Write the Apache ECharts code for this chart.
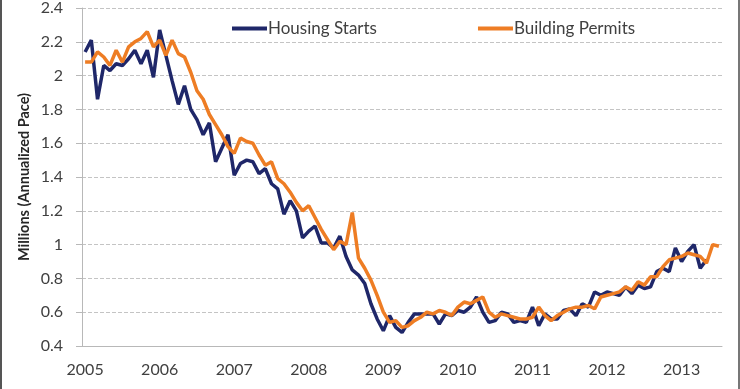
<!DOCTYPE html>
<html>
<head>
<meta charset="utf-8">
<script src="https://cdn.jsdelivr.net/npm/echarts@6/dist/echarts.min.js"></script>
<style>
html,body{margin:0;padding:0;background:#fff;}
#frame{position:absolute;left:0;top:0;width:736px;height:389px;border-left:2px solid #555;border-right:2px solid #777;}
#chart{position:absolute;left:0;top:0;width:740px;height:389px;}
</style>
</head>
<body>
<div id="frame"></div>
<div id="chart"></div>
<script>
// Monthly data, Jan 2005 onward (millions, annualized pace)
const startYear = 2005;
const monthCount = 103; // Jan 2005 .. Jul 2013
const seriesNames = ['Housing Starts', 'Building Permits'];

const housingStarts = [
  // 2005
  2.14, 2.21, 1.86, 2.06, 2.03, 2.07, 2.06, 2.10, 2.15, 2.07, 2.15, 1.99,
  // 2006
  2.27, 2.12, 1.97, 1.83, 1.94, 1.80, 1.74, 1.65, 1.72, 1.49, 1.57, 1.65,
  // 2007
  1.41, 1.48, 1.50, 1.49, 1.42, 1.45, 1.36, 1.33, 1.18, 1.26, 1.20, 1.04,
  // 2008
  1.08, 1.11, 1.01, 1.01, 0.98, 1.05, 0.93, 0.85, 0.82, 0.77, 0.65, 0.56,
  // 2009
  0.49, 0.58, 0.51, 0.48, 0.54, 0.59, 0.59, 0.59, 0.59, 0.53, 0.59, 0.58,
  // 2010
  0.61, 0.60, 0.63, 0.69, 0.60, 0.54, 0.55, 0.60, 0.59, 0.54, 0.55, 0.54,
  // 2011
  0.63, 0.52, 0.59, 0.56, 0.56, 0.61, 0.62, 0.58, 0.65, 0.63, 0.72, 0.70,
  // 2012
  0.72, 0.71, 0.70, 0.75, 0.71, 0.76, 0.74, 0.75, 0.84, 0.86, 0.84, 0.98,
  // 2013
  0.90, 0.96, 1.00, 0.86, 0.91
];

const buildingPermits = [
  // 2005
  2.08, 2.08, 2.14, 2.11, 2.06, 2.15, 2.08, 2.17, 2.20, 2.22, 2.26, 2.17,
  // 2006
  2.21, 2.12, 2.21, 2.13, 2.11, 2.02, 1.91, 1.86, 1.77, 1.71, 1.65, 1.58,
  // 2007
  1.54, 1.63, 1.61, 1.60, 1.53, 1.47, 1.49, 1.39, 1.36, 1.31, 1.25, 1.20,
  // 2008
  1.23, 1.16, 1.09, 1.03, 0.97, 1.02, 1.00, 1.19, 0.92, 0.86, 0.79, 0.70,
  // 2009
  0.60, 0.54, 0.55, 0.51, 0.52, 0.55, 0.57, 0.60, 0.59, 0.61, 0.60, 0.58,
  // 2010
  0.63, 0.66, 0.65, 0.67, 0.69, 0.60, 0.57, 0.59, 0.58, 0.57, 0.56, 0.56,
  // 2011
  0.57, 0.63, 0.58, 0.55, 0.58, 0.60, 0.62, 0.63, 0.63, 0.64, 0.62, 0.69,
  // 2012
  0.70, 0.71, 0.72, 0.75, 0.73, 0.78, 0.76, 0.81, 0.81, 0.87, 0.91, 0.92,
  // 2013
  0.93, 0.95, 0.94, 0.93, 0.89, 1.00, 0.99
];

const yTicks = { min: 0.4, max: 2.4, interval: 0.2 };

const categories = [];
for (let i = 0; i < monthCount; i++) {
  const y = startYear + Math.floor(i / 12);
  const m = (i % 12) + 1;
  categories.push(y + '-' + (m < 10 ? '0' + m : m));
}

const chart = echarts.init(document.getElementById('chart'), null, { renderer: 'canvas' });
const fontFam = 'Lato, "Open Sans", sans-serif';
chart.setOption({
  backgroundColor: 'transparent',
  animation: false,
  grid: { left: 82, right: 18, top: 2, bottom: 43, containLabel: false },
  legend: {
    top: 15,
    left: 227,
    itemGap: 101,
    itemWidth: 35,
    itemHeight: 4,
    icon: 'rect',
    textStyle: { fontFamily: fontFam, fontSize: 17, color: '#404040', padding: [0, 0, 0, -4] },
    data: seriesNames
  },
  xAxis: {
    type: 'category',
    data: categories,
    boundaryGap: true,
    axisLine: { show: true, lineStyle: { color: '#b8b8b8', width: 1 } },
    axisTick: { show: false },
    axisLabel: {
      interval: function (index) { return index % 12 === 0; },
      formatter: function (v) { return v.slice(0, 4); },
      fontFamily: fontFam, fontSize: 16, color: '#404040', margin: 16
    },
    splitLine: { show: false }
  },
  yAxis: {
    type: 'value',
    min: yTicks.min, max: yTicks.max, interval: yTicks.interval,
    name: 'Millions (Annualized Pace)',
    nameLocation: 'middle',
    nameGap: 50,
    nameMoveOverlap: false,
    nameTextStyle: { fontFamily: fontFam, fontSize: 14.5, fontWeight: 'bold', color: '#262626' },
    axisLine: { show: true, lineStyle: { color: '#b8b8b8', width: 1 } },
    axisTick: { show: true, length: 6, lineStyle: { color: '#b8b8b8' } },
    axisLabel: {
      fontFamily: fontFam, fontSize: 16, color: '#404040', margin: 19,
      formatter: function (v) { return String(Math.round(v * 10) / 10); }
    },
    splitLine: { show: true, lineStyle: { color: '#c4c4c4', type: [4, 2], width: 1 } }
  },
  series: [
    {
      name: seriesNames[0], type: 'line', data: housingStarts,
      showSymbol: false, symbol: 'none',
      lineStyle: { color: '#1f2769', width: 3.5 }, itemStyle: { color: '#1f2769' }
    },
    {
      name: seriesNames[1], type: 'line', data: buildingPermits,
      showSymbol: false, symbol: 'none',
      lineStyle: { color: '#ee7d24', width: 3.5 }, itemStyle: { color: '#ee7d24' }
    }
  ]
});
</script>
</body>
</html>
